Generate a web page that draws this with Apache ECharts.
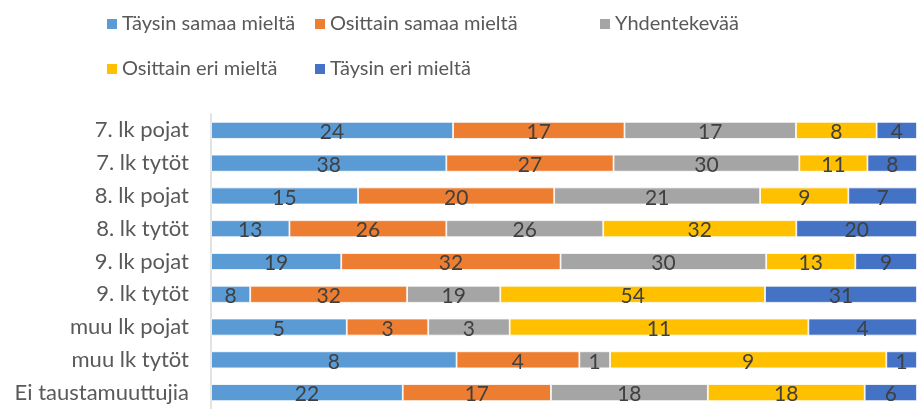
<!DOCTYPE html>
<html>
<head>
<meta charset="utf-8">
<script src="https://cdn.jsdelivr.net/npm/echarts@6/dist/echarts.min.js"></script>
<style>
  html, body { margin: 0; padding: 0; background: #fff; }
  #chart { width: 917px; height: 409px; }
</style>
</head>
<body>
<div id="chart"></div>
<script>
// rivit ylhäältä alas
var categories = ['7. lk pojat', '7. lk tytöt', '8. lk pojat', '8. lk tytöt', '9. lk pojat',
  '9. lk tytöt', 'muu lk pojat', 'muu lk tytöt', 'Ei taustamuuttujia'];
var seriesNames = ['Täysin samaa mieltä', 'Osittain samaa mieltä', 'Yhdentekevää',
  'Osittain eri mieltä', 'Täysin eri mieltä'];
var seriesColors = ['#5B9BD5', '#ED7D31', '#A5A5A5', '#FFC000', '#4472C4'];
var taysinSamaa = [24, 38, 15, 13, 19, 8, 5, 8, 22];
var osittainSamaa = [17, 27, 20, 26, 32, 32, 3, 4, 17];
var yhdentekevaa = [17, 30, 21, 26, 30, 19, 3, 1, 18];
var osittainEri = [8, 11, 9, 32, 13, 54, 11, 9, 18];
var taysinEri = [4, 8, 7, 20, 9, 31, 4, 1, 6];

var counts = [taysinSamaa, osittainSamaa, yhdentekevaa, osittainEri, taysinEri];
var font = 'Lato, "Open Sans", sans-serif';

// 100 % pinottu: rivin summa
var totals = categories.map(function (c, i) {
  return counts.reduce(function (s, arr) { return s + arr[i]; }, 0);
});

var series = counts.map(function (arr, k) {
  return {
    name: seriesNames[k],
    type: 'bar',
    stack: 'total',
    barWidth: 17,
    itemStyle: { color: seriesColors[k], borderColor: '#fff', borderWidth: 0.8 },
    label: {
      show: true,
      position: 'inside',
      color: '#404040',
      fontFamily: font,
      fontSize: 21,
      offset: [0, 2],
      formatter: function (p) { return arr[p.dataIndex]; }
    },
    data: arr.map(function (v, i) { return v / totals[i] * 100; })
  };
});

// legendan paikat (Excel-tyylinen kaksirivinen)
var legendPos = [[100, 9], [308, 9], [593, 9], [100, 54], [308, 54]];
var legends = seriesNames.map(function (n, k) {
  return {
    data: [n],
    left: legendPos[k][0],
    top: legendPos[k][1],
    icon: 'rect',
    itemWidth: 12,
    itemHeight: 12,
    itemGap: 5,
    textStyle: { color: '#595959', fontFamily: font, fontSize: 20, padding: [0, 0, 0, -1] }
  };
});

var myChart = echarts.init(document.getElementById('chart'));
myChart.setOption({
  animation: false,
  color: seriesColors,
  legend: legends,
  grid: { left: 211, right: 0, top: 114, height: 299 },
  xAxis: {
    type: 'value',
    min: 0,
    max: 100,
    show: false
  },
  yAxis: {
    type: 'category',
    inverse: true,
    data: categories,
    axisTick: { show: false },
    axisLine: { show: true, lineStyle: { color: '#D9D9D9', width: 1.5 } },
    axisLabel: { color: '#595959', fontFamily: font, fontSize: 22, margin: 22 }
  },
  series: series
});
</script>
</body>
</html>
